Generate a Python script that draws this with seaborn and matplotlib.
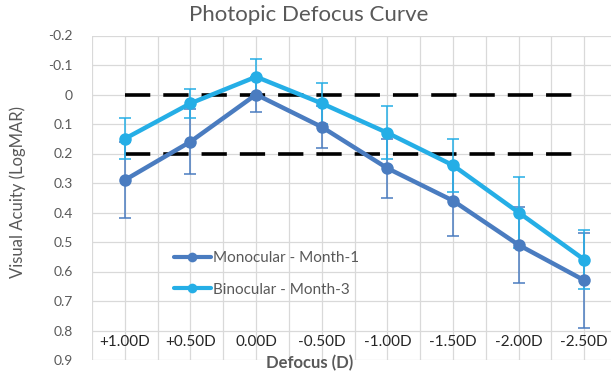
import matplotlib
matplotlib.use("Agg")
import matplotlib.pyplot as plt
import seaborn as sns
import pandas as pd
import numpy as np

categories = ["+1.00D", "+0.50D", "0.00D", "-0.50D", "-1.00D", "-1.50D", "-2.00D", "-2.50D"]
mono_vals = [0.29, 0.16, 0.00, 0.11, 0.25, 0.36, 0.51, 0.63]
mono_err = [0.13, 0.11, 0.06, 0.07, 0.10, 0.12, 0.13, 0.16]
bino_vals = [0.15, 0.03, -0.06, 0.03, 0.13, 0.24, 0.40, 0.56]
bino_err = [0.07, 0.05, 0.06, 0.07, 0.09, 0.09, 0.12, 0.10]
ref_levels = [0.0, 0.2]
series_names = ["Monocular - Month-1", "Binocular - Month-3"]
y_ticks = [-0.2, -0.1, 0, 0.1, 0.2, 0.3, 0.4, 0.5, 0.6, 0.7, 0.8, 0.9]

sns.set_theme(style="white")
plt.rcParams['font.family'] = ['Lato', 'DejaVu Sans']

mono_c = "#4A7CC0"
bino_c = "#25AEE6"
gray = "#595959"

fig = plt.figure(figsize=(6.11, 3.74), dpi=100)
ax = fig.add_axes([92/611, 1 - 360/374, 1 - 92/611 + 0.01, (360 - 35.5)/374])

x = np.arange(len(categories))
df = pd.DataFrame({
    "x": np.concatenate([x, x]),
    "val": mono_vals + bino_vals,
    "series": [series_names[0]] * len(x) + [series_names[1]] * len(x),
})

# reference dashed lines
for lv in ref_levels:
    ax.plot([x[0], x[-1]], [lv, lv], color="black", lw=2.6, dashes=(7, 3.6), zorder=2)

# error bars
ax.errorbar(x, mono_vals, yerr=mono_err, fmt="none", ecolor=mono_c, elinewidth=1.1, capsize=4, capthick=1.1, zorder=3)
ax.errorbar(x, bino_vals, yerr=bino_err, fmt="none", ecolor=bino_c, elinewidth=1.1, capsize=4, capthick=1.1, zorder=3)

sns.lineplot(data=df, x="x", y="val", hue="series", palette=[mono_c, bino_c],
             marker="o", markersize=9, markeredgewidth=0, linewidth=3.2, ax=ax, zorder=4,
             legend=True)

ax.set_ylim(0.9, -0.2)
ax.set_xlim(-0.5, 7.45)
ax.set_yticks(y_ticks)
ax.set_yticklabels(["0" if abs(v) < 1e-9 else f"{v:.1f}" for v in y_ticks], color=gray, fontsize=10)
ax.set_xticks(x)
ax.set_xticklabels(categories, color=gray, fontsize=9.5)
ax.set_xticks(np.arange(-0.5, 8.0, 1.0), minor=True)
ax.grid(True, which="major", axis="both", color="#D9D9D9", lw=0.9)
ax.grid(True, which="minor", axis="x", color="#D9D9D9", lw=0.9)
ax.set_axisbelow(True)
ax.tick_params(axis="both", which="both", length=0, pad=4)
ax.tick_params(axis="y", pad=14)
for s in ["top", "right", "left"]:
    ax.spines[s].set_visible(False)
ax.spines["bottom"].set_position(("data", 0.8))
ax.spines["bottom"].set_color("none")
ax.xaxis.set_tick_params(pad=3)

ax.set_xlabel("")
ax.set_ylabel("")
fig.text(0.505, 1 - 15/374, "Photopic Defocus Curve", ha="center", va="center", fontsize=16, color=gray)
fig.text(18/611, 1 - 192/374, "Visual Acuity (LogMAR)", ha="center", va="center", rotation=90, fontsize=12, color=gray)
fig.text(310/611, 1 - 363/374, "Defocus (D)", ha="center", va="center", fontsize=12, color=gray, fontweight="bold")

leg = ax.legend(loc="upper left", bbox_to_anchor=((168 - 92)/(611 - 92 + 6), 1 - (245 - 35.5)/324.5),
                frameon=False, fontsize=11, handlelength=2.4, handletextpad=0.15, labelspacing=1.15,
                borderaxespad=0)
for t in leg.get_texts():
    t.set_color(gray)
for h in leg.legend_handles:
    h.set_markersize(7)
    h.set_linewidth(3)

fig.savefig("out.png", dpi=100)
